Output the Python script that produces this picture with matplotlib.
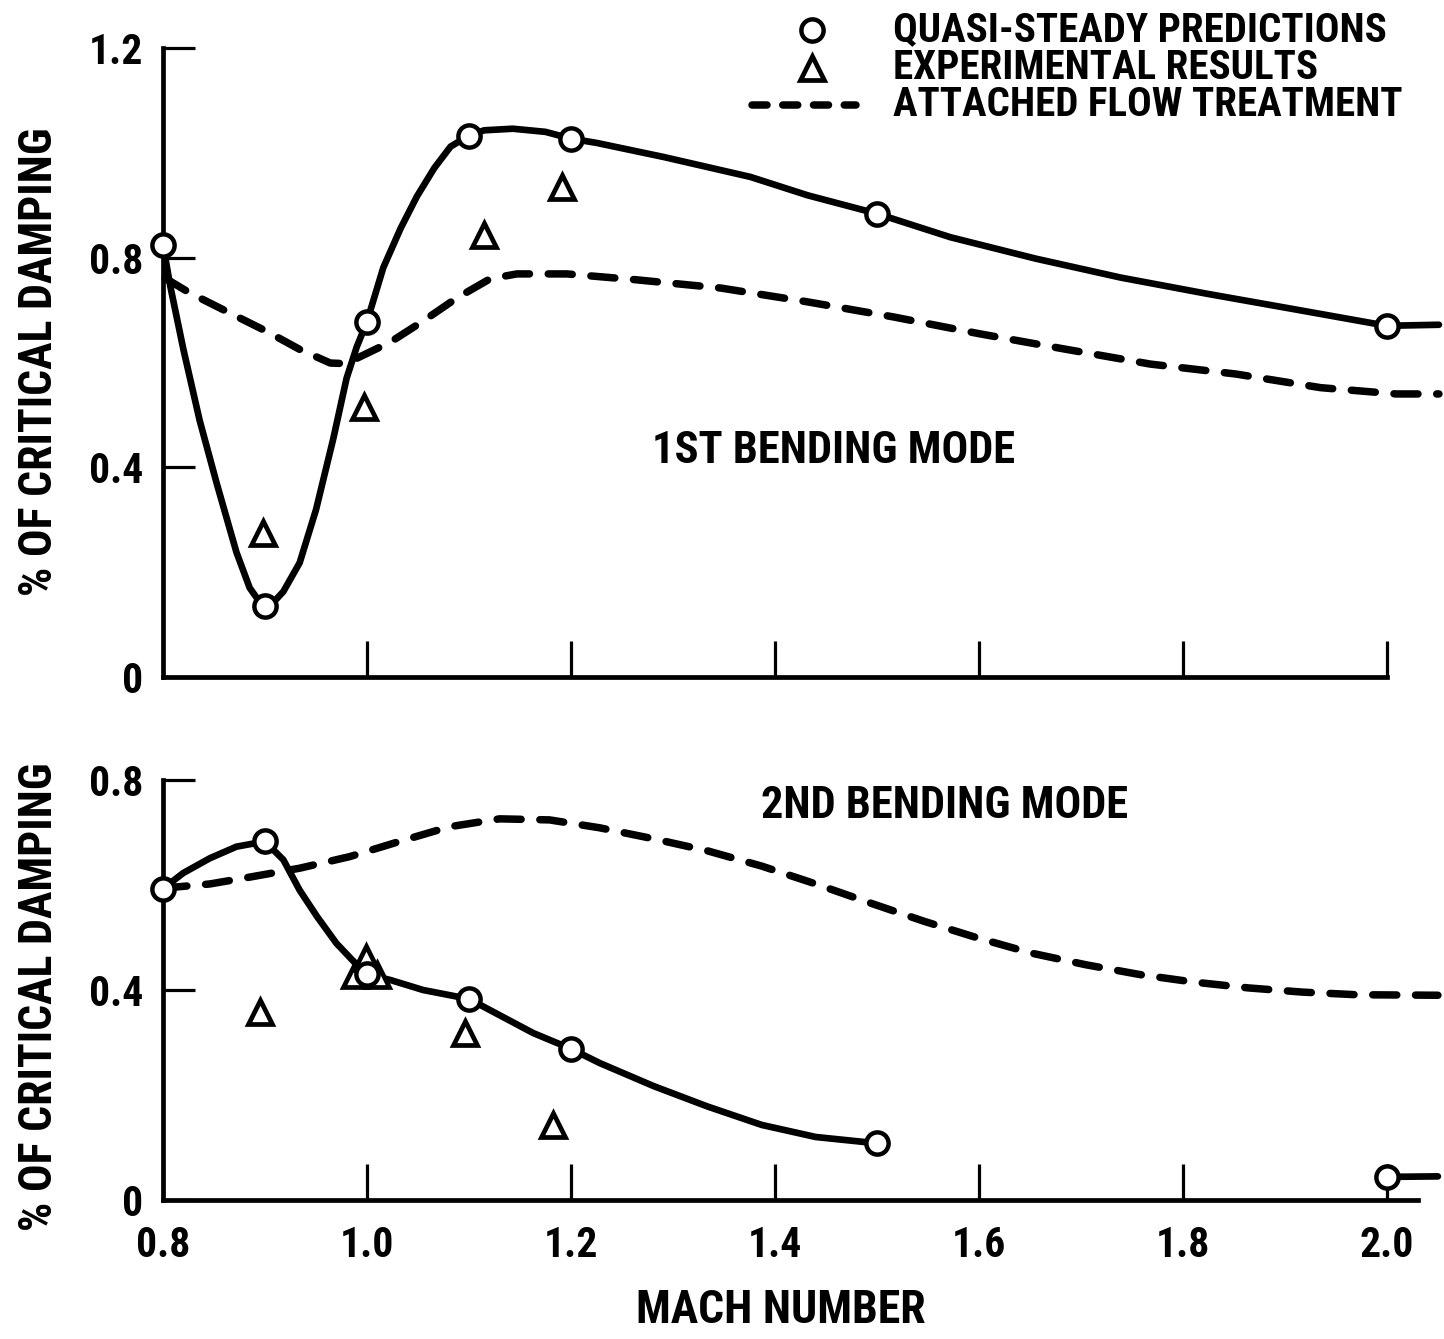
import matplotlib
matplotlib.use("Agg")
import matplotlib.pyplot as plt
from matplotlib.lines import Line2D

plt.rcParams['font.family'] = ['Roboto Condensed', 'Liberation Sans Narrow', 'Lato', 'DejaVu Sans']
plt.rcParams['font.weight'] = 'bold'
plt.rcParams['font.stretch'] = 'condensed'

#---- 1st bending mode
mach_qs1 = [0.8, 0.9, 1.0, 1.1, 1.2, 1.5, 2.0]
qs1 = [0.825, 0.136, 0.678, 1.033, 1.027, 0.884, 0.670]
mach_exp1 = [0.898, 0.997, 1.115, 1.191]
exp1 = [0.275, 0.516, 0.843, 0.934]
#faired solid curve through the predictions
fair1_m = [0.800, 0.807, 0.820, 0.836, 0.853, 0.872, 0.885, 0.893, 0.900, 0.908, 0.918, 0.934,
           0.950, 0.967, 0.980, 0.990, 1.000, 1.016, 1.033, 1.049, 1.066, 1.082, 1.100,
           1.115, 1.143, 1.175, 1.200, 1.225, 1.291, 1.376, 1.432, 1.500, 1.572,
           1.656, 1.739, 1.824, 1.908, 2.000, 2.051]
fair1_v = [0.825, 0.747, 0.625, 0.489, 0.367, 0.238, 0.170, 0.148, 0.136, 0.142, 0.163, 0.218,
           0.319, 0.455, 0.570, 0.630, 0.678, 0.781, 0.856, 0.917, 0.971, 1.012, 1.033,
           1.043, 1.046, 1.040, 1.027, 1.019, 0.992, 0.954, 0.919, 0.884, 0.839,
           0.798, 0.762, 0.731, 0.702, 0.670, 0.672]
#attached flow treatment
att1_m = [0.802, 0.826, 0.868, 0.902, 0.934, 0.964, 0.977, 0.990, 1.023, 1.055,
          1.088, 1.121, 1.147, 1.196, 1.263, 1.347, 1.431, 1.516, 1.600, 1.683,
          1.768, 1.852, 1.935, 2.009, 2.051]
att1_v = [0.761, 0.733, 0.692, 0.659, 0.625, 0.599, 0.598, 0.608, 0.639, 0.679,
          0.723, 0.760, 0.769, 0.769, 0.758, 0.742, 0.716, 0.687, 0.655, 0.626,
          0.597, 0.578, 0.552, 0.540, 0.540]

#---- 2nd bending mode
mach_qs2 = [0.8, 0.9, 1.0, 1.1, 1.2, 1.5, 2.0]
qs2 = [0.593, 0.683, 0.430, 0.383, 0.288, 0.108, 0.044]
mach_exp2 = [0.895, 0.988, 0.999, 1.010, 1.096, 1.182]
exp2 = [0.359, 0.429, 0.461, 0.429, 0.318, 0.143]
fair2_m = [0.800, 0.820, 0.846, 0.872, 0.900, 0.918, 0.934, 0.951, 0.970, 0.990,
           1.000, 1.023, 1.055, 1.100, 1.130, 1.163, 1.200, 1.228, 1.281, 1.334,
           1.387, 1.440, 1.500]
fair2_v = [0.593, 0.623, 0.651, 0.673, 0.683, 0.648, 0.590, 0.540, 0.489, 0.448,
           0.430, 0.419, 0.400, 0.383, 0.352, 0.318, 0.288, 0.261, 0.217, 0.178,
           0.143, 0.120, 0.108]
#short piece of the curve left at the right end
fair2b_m = [2.000, 2.050]
fair2b_v = [0.044, 0.045]
att2_m = [0.800, 0.846, 0.885, 0.934, 0.983, 1.032, 1.081, 1.130, 1.179, 1.228,
          1.281, 1.334, 1.387, 1.440, 1.493, 1.546, 1.599, 1.652, 1.705, 1.759,
          1.811, 1.864, 1.917, 1.970, 2.050]
att2_v = [0.594, 0.602, 0.615, 0.632, 0.654, 0.683, 0.711, 0.726, 0.724, 0.709,
          0.688, 0.665, 0.636, 0.602, 0.566, 0.531, 0.499, 0.470, 0.448, 0.429,
          0.415, 0.404, 0.396, 0.391, 0.390]

xticks = [0.8, 1.0, 1.2, 1.4, 1.6, 1.8, 2.0]
xticklabels = ["0.8", "1.0", "1.2", "1.4", "1.6", "1.8", "2.0"]
yticks1 = [0, 0.4, 0.8, 1.2]
yticklabels1 = ["0", "0.4", "0.8", "1.2"]
yticks2 = [0, 0.4, 0.8]
yticklabels2 = ["0", "0.4", "0.8"]

W, H = 1444, 1339
LW = 4.8
DLW = 5.4
DASH = (3.2, 2.5)
circle_kw = dict(ls='none', marker='o', ms=16, mew=3.2, mfc='white', mec='black',
                 zorder=5, clip_on=False)
tri_kw = dict(ls='none', marker='^', ms=17, mew=3.4, mfc='white', mec='black',
              zorder=4, clip_on=False)

fig = plt.figure(figsize=(W / 100, H / 100), dpi=100)
ax1 = fig.add_axes([163 / W, 1 - 677 / H, 1280 / W, 629 / H])
ax2 = fig.add_axes([163 / W, 1 - 1200 / H, 1280 / W, 420 / H])


def style_axis(ax, ylim, yticks, ylabels, xbound):
    ax.set_xlim(0.8, 2.055)
    ax.set_ylim(*ylim)
    for s in ("top", "right"):
        ax.spines[s].set_visible(False)
    for s in ("left", "bottom"):
        ax.spines[s].set_linewidth(3.4)
    ax.spines["left"].set_bounds(*ylim)
    ax.spines["bottom"].set_bounds(0.8, xbound)
    ax.set_yticks(yticks)
    ax.set_yticklabels(ylabels)
    ax.tick_params(axis='y', direction='in', length=23, width=2.3, pad=14, labelsize=30)
    ax.tick_params(axis='x', direction='in', length=26, width=2.3, pad=18, labelsize=30)
    ax.patch.set_alpha(0)


#top panel
style_axis(ax1, (0, 1.2), yticks1, yticklabels1, 2.0)
ax1.set_xticks(xticks[1:])
ax1.tick_params(axis='x', labelbottom=False)
ax1.plot(fair1_m, fair1_v, color='black', lw=LW, solid_capstyle='round', solid_joinstyle='round',
         zorder=3, clip_on=False)
ax1.plot(att1_m, att1_v, color='black', lw=DLW, dashes=DASH, dash_capstyle='round', zorder=3, clip_on=False)
ax1.plot(mach_qs1, qs1, **circle_kw)
ax1.plot(mach_exp1, exp1, **tri_kw)
ax1.text(1.457, 0.431, "1ST BENDING MODE", ha='center', va='center', fontsize=32)

#bottom panel
style_axis(ax2, (0, 0.8), yticks2, yticklabels2, 2.03)
ax2.set_xticks(xticks)
ax2.set_xticklabels(xticklabels)
ax2.plot(fair2_m, fair2_v, color='black', lw=LW, solid_capstyle='round', solid_joinstyle='round',
         zorder=3, clip_on=False)
ax2.plot(fair2b_m, fair2b_v, color='black', lw=LW, solid_capstyle='round', zorder=3, clip_on=False)
ax2.plot(att2_m, att2_v, color='black', lw=DLW, dashes=DASH, dash_capstyle='round', zorder=3, clip_on=False)
ax2.plot(mach_qs2, qs2, **circle_kw)
ax2.plot(mach_exp2, exp2, **tri_kw)
ax2.text(1.566, 0.750, "2ND BENDING MODE", ha='center', va='center', fontsize=32)

#axis titles
for yc in (362, 997):
    fig.text(39 / W, 1 - yc / H, "% OF CRITICAL DAMPING", rotation=90,
             ha='center', va='center', fontsize=33)
fig.text(781 / W, 1 - 1310 / H, "MACH NUMBER", ha='center', va='center', fontsize=33)

#legend, drawn by hand like the original
fig.add_artist(Line2D([812 / W], [1 - 30 / H], transform=fig.transFigure, **circle_kw))
fig.add_artist(Line2D([812 / W], [1 - 68 / H], transform=fig.transFigure, **tri_kw))
fig.add_artist(Line2D([752 / W, 856 / W], [1 - 105 / H, 1 - 105 / H], transform=fig.transFigure,
                      color='black', lw=DLW, dashes=(2.0, 2.1), dash_capstyle='round'))
legend_labels = ["QUASI-STEADY PREDICTIONS", "EXPERIMENTAL RESULTS", "ATTACHED FLOW TREATMENT"]
for lab, yc in zip(legend_labels, (30, 68, 105)):
    fig.text(893 / W, 1 - yc / H, lab, ha='left', va='center', fontsize=29.5)

fig.savefig("out.png", dpi=100, facecolor='white')
